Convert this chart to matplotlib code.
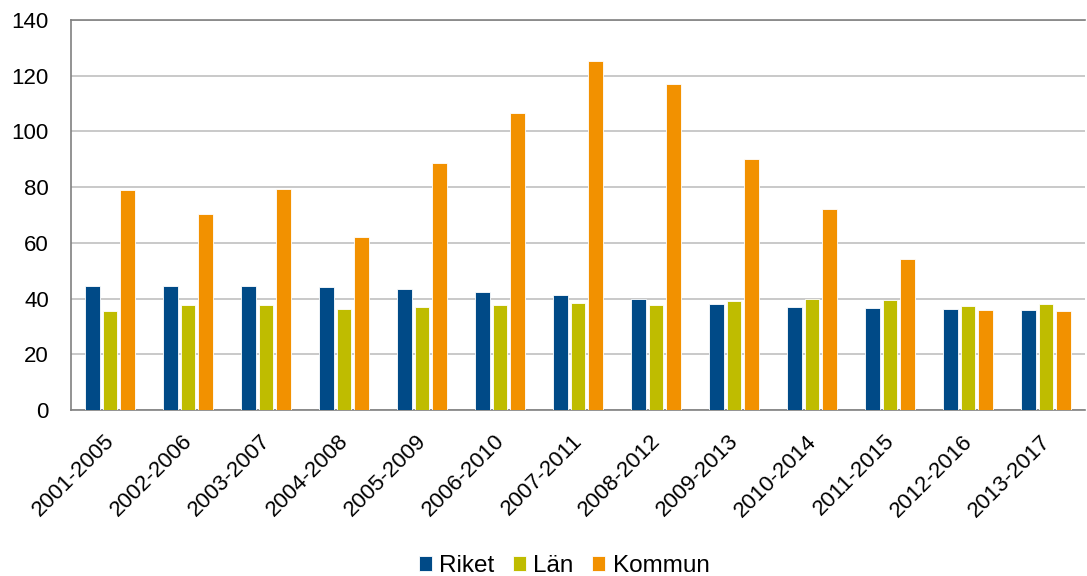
import matplotlib.pyplot as plt
import matplotlib.transforms as mtransforms
import numpy as np

plt.rcParams.update({
    'font.family': ['Liberation Sans', 'DejaVu Sans'],
    'font.size': 16,
})

periods = ['2001-2005', '2002-2006', '2003-2007', '2004-2008', '2005-2009',
           '2006-2010', '2007-2011', '2008-2012', '2009-2013', '2010-2014',
           '2011-2015', '2012-2016', '2013-2017']
riket = [44.6, 44.4, 44.5, 44.2, 43.3, 42.4, 41.2, 39.7, 37.9, 36.9, 36.5, 36.3, 35.9]
lan = [35.6, 37.6, 37.8, 36.1, 37.1, 37.8, 38.4, 37.7, 39.1, 39.8, 39.4, 37.4, 38.2]
kommun = [79.1, 70.5, 79.4, 62.0, 88.7, 106.6, 125.3, 117.0, 90.2, 72.3, 54.1, 35.8, 35.5]

series = [('Riket', riket, '#004a87'),
          ('Län', lan, '#bfbc00'),
          ('Kommun', kommun, '#f29100')]

fig = plt.figure(figsize=(10.87, 5.76), dpi=100)
ax = fig.add_axes([71 / 1087, 1 - 410 / 576, (1085 - 71) / 1087, 390 / 576])

x = np.arange(len(periods))
pitch = 0.222
for i, (name, vals, col) in enumerate(series):
    ax.bar(x + (i - 1) * pitch, vals, width=0.19, color=col, edgecolor='white',
           linewidth=0.6, label=name, zorder=3)

ax.set_xlim(-0.5, len(periods) - 0.5)
ax.set_ylim(0, 140)
ax.set_yticks(range(0, 141, 20))
ax.yaxis.grid(True, color='#c0c0c0', linewidth=1.2, zorder=0)
ax.set_axisbelow(True)

ax.set_xticks(x)
ax.set_xticklabels(periods, rotation=45, ha='right', rotation_mode='anchor')
ax.tick_params(axis='x', length=0, pad=15)
ax.tick_params(axis='y', length=0, pad=16)
shift = mtransforms.ScaledTranslation(-6 / 100, 0, fig.dpi_scale_trans)
for lbl in ax.get_xticklabels():
    lbl.set_transform(lbl.get_transform() + shift)

for s in ['left', 'bottom', 'top']:
    ax.spines[s].set_color('#808080')
    ax.spines[s].set_linewidth(1.2)
ax.spines['right'].set_visible(False)

fig.legend(loc='lower center', bbox_to_anchor=(0.519, -0.04), ncol=3, frameon=False,
           fontsize=17.5, handlelength=0.55, handleheight=0.55, handletextpad=0.3,
           columnspacing=0.75)

fig.savefig('out.png', dpi=100, facecolor='white')
